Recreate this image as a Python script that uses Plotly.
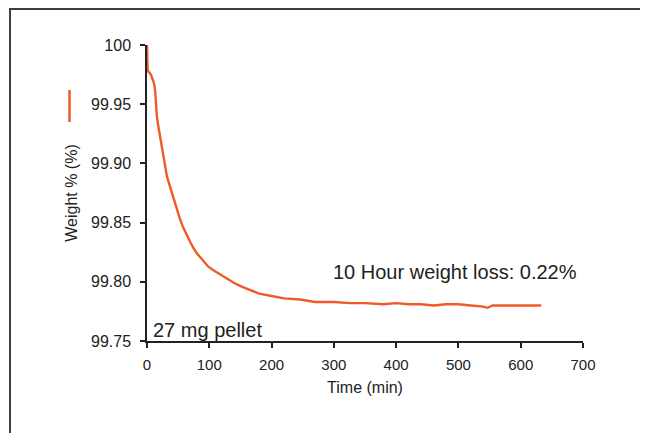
import plotly.graph_objects as go

# Data (time in minutes, weight %)
time_min = [0, 0.3, 1, 3, 5, 7, 9, 11, 13, 15, 16, 18, 21, 24, 26, 29, 32, 36, 40, 44, 48, 53, 58, 64, 70, 74, 80, 90, 98, 106, 115, 128, 140, 152, 165, 180, 200, 220, 246, 270, 300, 326, 350, 380, 400, 420, 440, 460, 480, 500, 520, 540, 547, 555, 580, 600, 620, 633]
weight = [100.0, 99.981, 99.979, 99.977, 99.976, 99.974, 99.971, 99.968, 99.962, 99.945, 99.939, 99.932, 99.922, 99.912, 99.905, 99.897, 99.889, 99.882, 99.875, 99.868, 99.861, 99.853, 99.846, 99.839, 99.833, 99.829, 99.824, 99.818, 99.813, 99.810, 99.807, 99.803, 99.799, 99.796, 99.793, 99.790, 99.788, 99.786, 99.785, 99.783, 99.783, 99.782, 99.782, 99.781, 99.782, 99.781, 99.781, 99.780, 99.781, 99.781, 99.780, 99.779, 99.778, 99.780, 99.780, 99.780, 99.780, 99.780]

y_tickvals = [99.75, 99.80, 99.85, 99.90, 99.95, 100.0]
y_ticktext = ["99.75", "99.80", "99.85", "99.90", "99.95", "100"]
x_tickvals = [0, 100, 200, 300, 400, 500, 600, 700]

x_title = "Time (min)"
y_title = "Weight % (%)"
note_loss = "10 Hour weight loss: 0.22%"
note_pellet = "27 mg pellet"

LINE_COLOR = "#F05A28"
TEXT_COLOR = "#222222"
FONT = "Liberation Sans, Arial, sans-serif"

fig = go.Figure()
fig.add_trace(go.Scatter(x=time_min, y=weight, mode="lines",
                         line=dict(color=LINE_COLOR, width=2.4),
                         showlegend=False))

# page has an 8px body margin, so the figure is 640x425 drawn at (8,8)
OFF = 8
W, H = 640, 425
L, R, T, B = 139, 65, 37, 92
pw, ph = W - L - R, H - T - B

def px_x(page_px):
    return (page_px - OFF - L) / pw

def px_y(page_py):
    return (H - B - (page_py - OFF)) / ph

fig.update_layout(
    width=W, height=H,
    margin=dict(l=L, r=R, t=T, b=B),
    paper_bgcolor="white", plot_bgcolor="white",
    font=dict(family=FONT, size=14, color=TEXT_COLOR),
    xaxis=dict(range=[0, 700], tickvals=x_tickvals, showgrid=False, zeroline=False,
               showline=True, linecolor="#222222", linewidth=1.5,
               ticks="outside", ticklen=5, tickcolor="#222222", tickwidth=1.5,
               ticklabelstandoff=4,
               title=dict(text=x_title, font=dict(size=16), standoff=10),
               tickfont=dict(size=15)),
    yaxis=dict(range=[99.75, 100.0], tickvals=y_tickvals, ticktext=y_ticktext,
               showgrid=False, zeroline=False,
               showline=True, linecolor="#222222", linewidth=1.5,
               ticks="outside", ticklen=5, tickcolor="#222222", tickwidth=1.5,
               ticklabelstandoff=6,
               title=dict(text=y_title, font=dict(size=16), standoff=9),
               tickfont=dict(size=16)),
    showlegend=False,
)

fig.add_annotation(x=296, y=99.8085, xref="x", yref="y", text=note_loss,
                   showarrow=False, xanchor="left", yanchor="middle",
                   font=dict(size=20, color=TEXT_COLOR))
fig.add_annotation(x=6, y=99.7595, xref="x", yref="y", text=note_pellet,
                   showarrow=False, xanchor="left", yanchor="middle",
                   font=dict(size=20, color=TEXT_COLOR))

# outer frame (left and top edges)
fig.add_shape(type="line", xref="paper", yref="paper",
              x0=px_x(10), x1=px_x(10), y0=px_y(9), y1=px_y(440),
              line=dict(color="#404040", width=2))
fig.add_shape(type="line", xref="paper", yref="paper",
              x0=px_x(9), x1=px_x(660), y0=px_y(9), y1=px_y(9),
              line=dict(color="#404040", width=2))
# legend glyph (short vertical orange line)
fig.add_shape(type="line", xref="paper", yref="paper",
              x0=px_x(69.5), x1=px_x(69.5), y0=px_y(90), y1=px_y(122),
              line=dict(color=LINE_COLOR, width=2.5))

fig.write_html("out.html")
